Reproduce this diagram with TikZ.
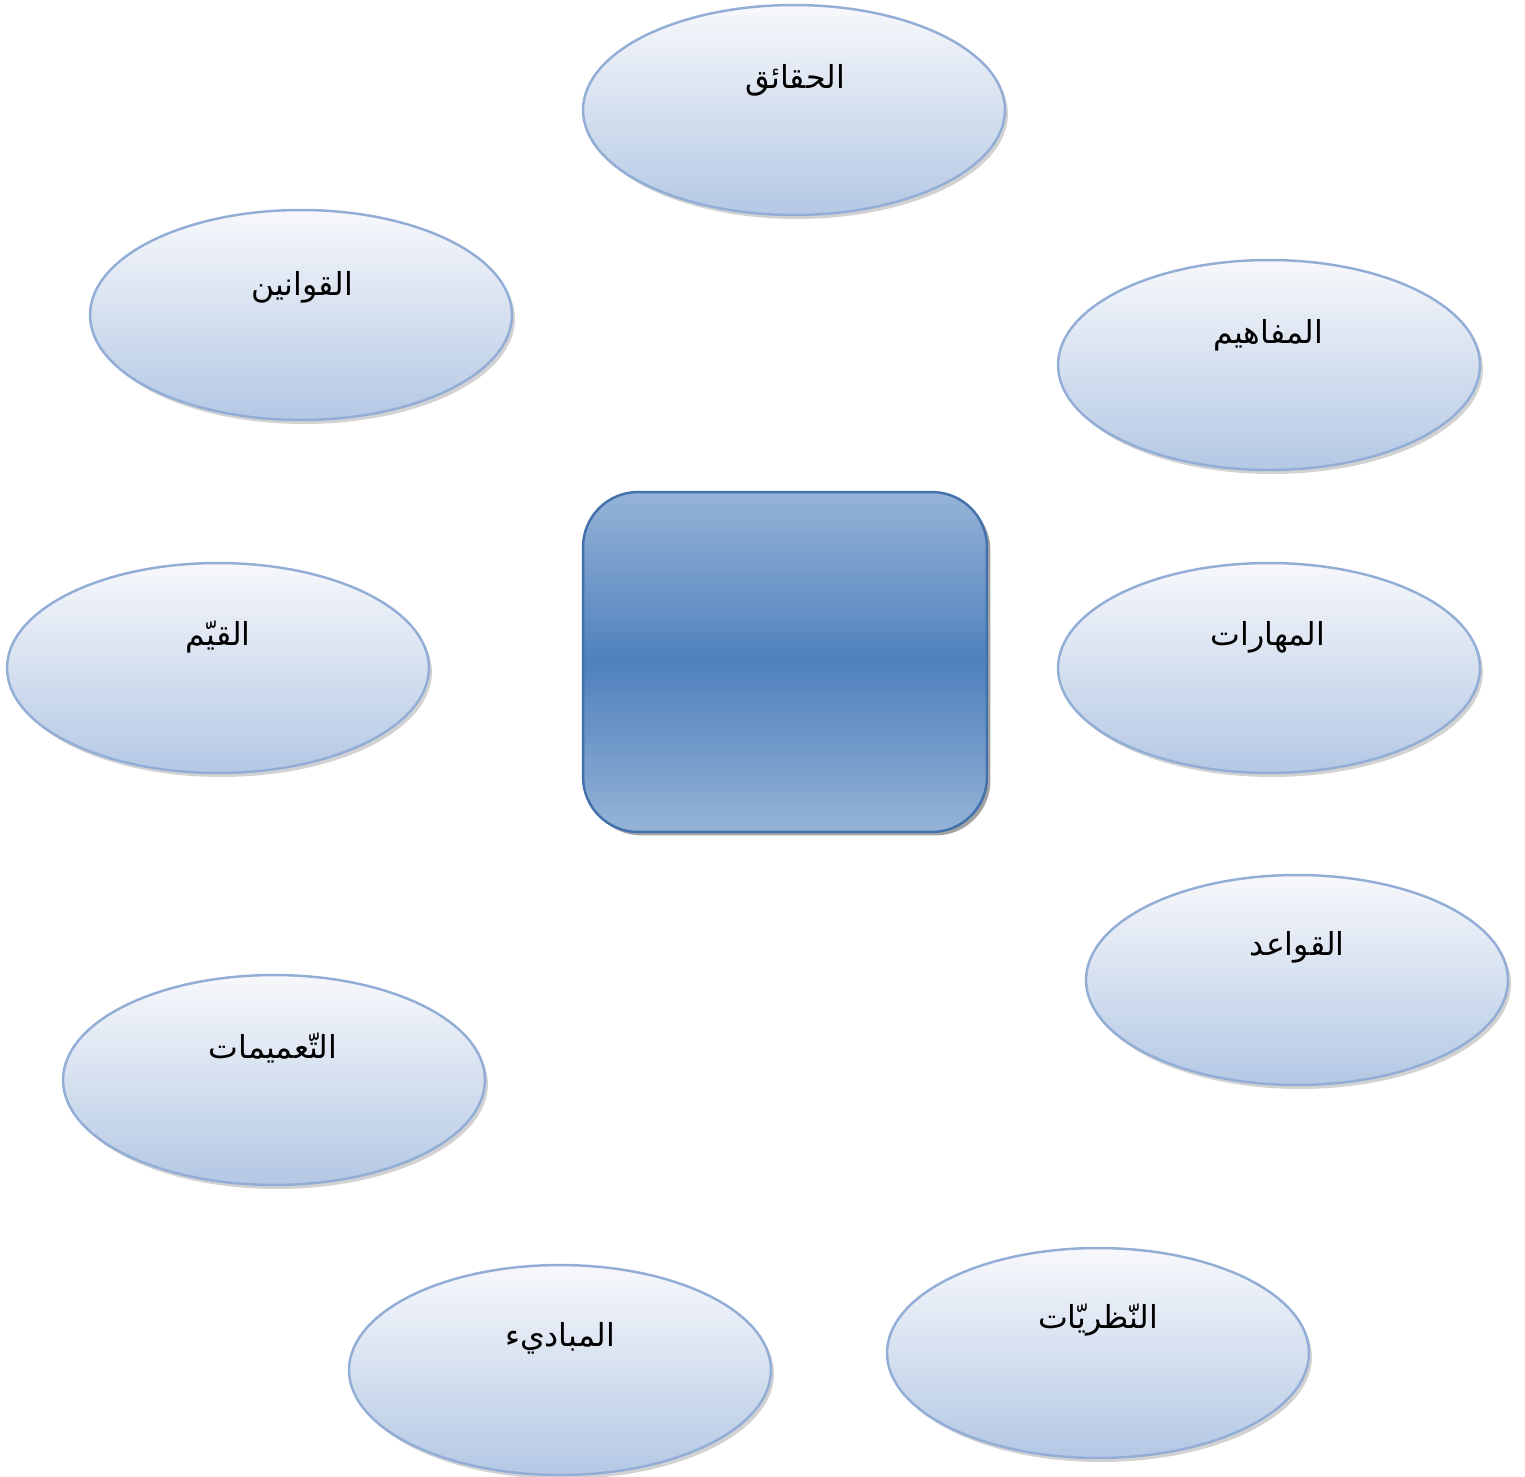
\documentclass[tikz,border=0pt]{standalone}
\usepackage{fontspec}
\newfontfamily\arabicfont[Script=Arabic]{DejaVu Sans}
\TeXXeTstate=1
\usetikzlibrary{shapes.geometric,shadows}
\definecolor{ellborder}{HTML}{93AED6}
\definecolor{elltop}{HTML}{F7F8FB}
\definecolor{ellbot}{HTML}{B4C8E4}
\definecolor{boxmid}{HTML}{4F81BD}
\definecolor{boxlight}{HTML}{95B3D7}
\definecolor{boxborder}{HTML}{4271AB}
\tikzset{
  topic/.style={ellipse, draw=ellborder, line width=1.4pt, minimum width=8.44cm, minimum height=4.2cm,
    top color=elltop, bottom color=ellbot, inner sep=0pt,
    drop shadow={shadow xshift=0.06cm, shadow yshift=-0.08cm, fill=black!35, opacity=0.5}},
  lbl/.style={font=\arabicfont\fontsize{18}{21}\selectfont, text=black, inner sep=0pt},
  hub/.style={rectangle, rounded corners=1.1cm, draw=boxborder, line width=1.4pt,
    minimum width=8.08cm, minimum height=6.8cm,
    top color=boxlight, bottom color=boxlight, middle color=boxmid,
    drop shadow={shadow xshift=0.07cm, shadow yshift=-0.07cm, fill=black!60, opacity=0.6}}
}
\begin{document}
\begin{tikzpicture}[x=0.02cm,y=-0.02cm]
\useasboundingbox (0,0) rectangle (1525,1477);
\fill[white] (0,0) rectangle (1525,1477);
\node[hub] (center) at (785,662) {};
\node[topic] (e1) at (794,110) {};
\node[topic] (e2) at (301,315) {};
\node[topic] (e3) at (1269,365) {};
\node[topic] (e4) at (218,668) {};
\node[topic] (e5) at (1269,668) {};
\node[topic] (e6) at (1297,980) {};
\node[topic] (e7) at (274,1080) {};
\node[topic] (e8) at (560,1370) {};
\node[topic] (e9) at (1098,1353) {};
\node[lbl] (t1) at (795,80) {\beginR الحقائق\endR};
\node[lbl] (t2) at (302,287) {\beginR القوانين\endR};
\node[lbl] (t3) at (1268,335) {\beginR المفاهيم\endR};
\node[lbl] (t4) at (218,637) {\beginR القيّم\endR};
\node[lbl] (t5) at (1268,637) {\beginR المهارات\endR};
\node[lbl] (t6) at (1297,947) {\beginR القواعد\endR};
\node[lbl] (t7) at (273,1048) {\beginR التّعميمات\endR};
\node[lbl] (t8) at (560,1338) {\beginR المباديء\endR};
\node[lbl] (t9) at (1098,1320) {\beginR النّظريّات\endR};
\end{tikzpicture}
\end{document}
